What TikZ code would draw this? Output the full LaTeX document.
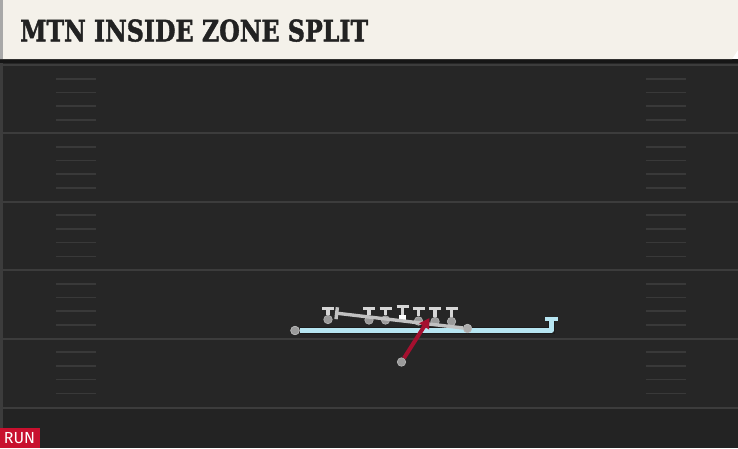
\documentclass[tikz,border=0pt]{standalone}
\usepackage{fontspec}
\usepackage{graphicx}
\usetikzlibrary{arrows.meta}
\newfontfamily\titlefont{DejaVu Serif}[BoldFeatures={FakeBold=1.6}]
\newfontfamily\tagfont{Fira Sans}
\definecolor{fieldbg}{HTML}{262626}
\definecolor{fieldline}{HTML}{3C3C3C}
\definecolor{hashline}{HTML}{393939}
\definecolor{headerbg}{HTML}{F4F1EA}
\definecolor{headeredge}{HTML}{A8A8A8}
\definecolor{shadowband}{HTML}{161616}
\definecolor{titleink}{HTML}{222222}
\definecolor{runred}{HTML}{C8102E}
\definecolor{routeblue}{HTML}{B7E6F2}
\definecolor{routeedge}{HTML}{1C1C1C}
\definecolor{blockgray}{HTML}{D6D6D6}
\definecolor{dotgray}{HTML}{9A9A9A}
\definecolor{arrowred}{HTML}{A5102F}
\tikzset{
  yardline/.style={draw=fieldline, line width=2pt},
  hashmark/.style={draw=hashline, line width=1.6pt},
  player/.style={circle, fill=dotgray, draw=dotgray!70!white, line width=0.6pt, minimum size=8.5pt, inner sep=0pt},
  centersq/.style={rectangle, fill=white, minimum size=7.5pt, inner sep=0pt},
  blockline/.style={draw=blockgray, line width=3.4pt, -{Bar[width=12pt, line width=3.4pt]}},
  splitline/.style={draw=blockgray!90!black, line width=3.4pt, -{Bar[width=12pt, line width=3.4pt]}},
  blueroute/.style={draw=routeblue, line width=4.2pt, line join=round,
     preaction={draw=routeedge, line width=6.2pt}, -{Bar[width=13pt, line width=4.2pt]}},
  runarrow/.style={draw=arrowred, line width=4pt, -{Triangle[length=10pt, width=11pt]}},
}
\begin{document}
\begin{tikzpicture}[x=1pt,y=-1pt]
\useasboundingbox (0,0) rectangle (738,448);
% field
\fill[fieldbg] (0,59) rectangle (738,448);
\fill[fieldbg!92!black] (0,408) rectangle (738,448);
\fill[fieldline] (0,59) rectangle (3,448);
\fill[shadowband] (0,59) rectangle (738,63);
% yard lines
\foreach \yy in {65,133,201.5,270,338.5,408}{
  \draw[yardline] (3,\yy) -- (738,\yy);
}
% hash marks
\foreach \s in {65,133,201.5,270,338.5}{
  \foreach \k in {1,2,3,4}{
    \draw[hashmark] (56,\s+13.7*\k) -- (96,\s+13.7*\k);
    \draw[hashmark] (646,\s+13.7*\k) -- (686,\s+13.7*\k);
  }
}
% header
\fill[headerbg] (0,0) -- (738,0) -- (738,50) -- (732,59) -- (0,59) -- cycle;
\fill[headeredge] (0,0) rectangle (3,59);
\node[anchor=south west, inner sep=0pt, text=titleink] (title) at (20,42)
  {\resizebox{348pt}{22pt}{\titlefont\bfseries MTN INSIDE ZONE SPLIT}};
% RUN tag
\fill[runred] (0,428) rectangle (40,448);
\node[text=white, inner sep=0pt, font=\tagfont\fontsize{16}{16}\selectfont] (runtag) at (19.5,438.5) {RUN};

% players
\node[player] (wr) at (295,330.5) {};
\node[player] (te) at (328,319.5) {};
\node[player] (lt) at (369,320) {};
\node[player] (lg) at (385.5,320) {};
\node[centersq] (ctr) at (402.5,318.5) {};
\node[player] (rg) at (418.5,321) {};
\node[player] (rt) at (435,321.5) {};
\node[player] (y) at (451.5,321.5) {};
\node[player] (hb) at (467.5,328.5) {};
\node[player] (rb) at (401.5,362) {};

% route ends
\coordinate (wrturn) at (551.5,330.5);
\coordinate (wrend) at (551.5,317);
\coordinate (teb) at (328,307);
\coordinate (ltb) at (369,307);
\coordinate (lgb) at (385.5,307);
\coordinate (ctrb) at (402.5,304.5);
\coordinate (rgb) at (418.5,307);
\coordinate (rtb) at (435,307);
\coordinate (yb) at (451.5,307);
\coordinate (hbend) at (335,313);
\coordinate (rbend) at (429.5,318);

% blue route
\draw[blueroute] (wr.east) -- (wrturn) -- (wrend);
\node[player] at (wr) {};

% blocks
\draw[blockline] (te) -- (teb);
\draw[blockline] (lt) -- (ltb);
\draw[blockline] (lg) -- (lgb);
\draw[blockline] (ctr) -- (ctrb);
\draw[blockline] (rg) -- (rgb);
\draw[blockline] (rt) -- (rtb);
\draw[blockline] (y) -- (yb);
\node[centersq] at (ctr) {};

% split block
\draw[splitline] (hb) -- (hbend);
\node[player, fill=blockgray!80!black] at (hb) {};

% run arrow
\draw[runarrow] (rb) -- (rbend);
\end{tikzpicture}
\end{document}
